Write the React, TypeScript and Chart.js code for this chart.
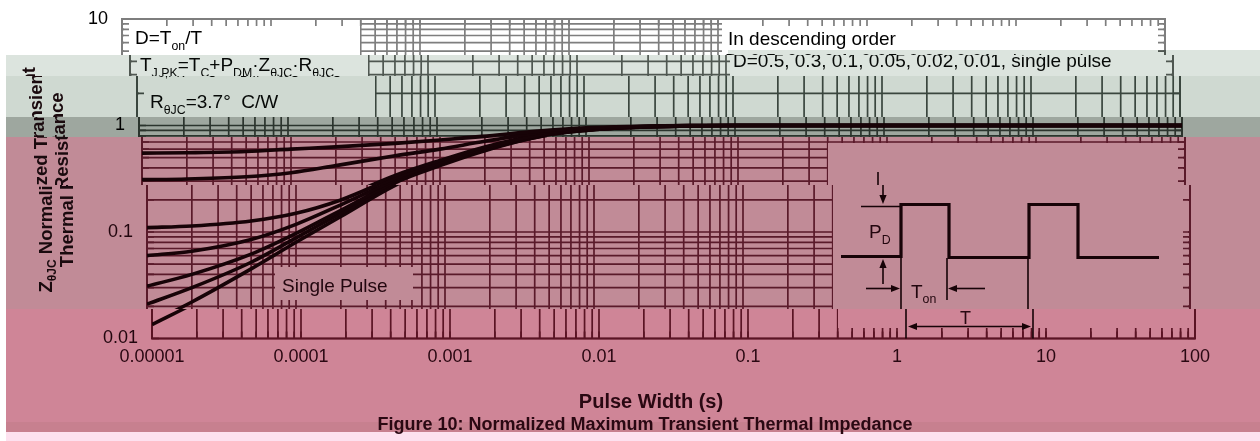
import React, { useEffect, useRef } from "react";
import { Chart, registerables } from "chart.js";
Chart.register(...registerables);

// ---- data ----
const pulseWidths = [1e-5, 2e-5, 5e-5, 1e-4, 2e-4, 5e-4, 1e-3, 2e-3, 5e-3, 1e-2, 2e-2, 5e-2, 1e-1, 1, 10, 100];
const dutyHalf = [0.55, 0.555, 0.57, 0.6, 0.63, 0.68, 0.73, 0.79, 0.89, 0.95, 0.98, 1, 1, 1, 1, 1];
const dutyPoint3 = [0.31, 0.315, 0.33, 0.36, 0.42, 0.52, 0.6, 0.71, 0.86, 0.93, 0.97, 1, 1, 1, 1, 1];
const dutyPoint1 = [0.11, 0.114, 0.127, 0.15, 0.2, 0.34, 0.47, 0.63, 0.83, 0.92, 0.97, 1, 1, 1, 1, 1];
const dutyPoint05 = [0.06, 0.066, 0.085, 0.118, 0.18, 0.32, 0.45, 0.61, 0.82, 0.91, 0.96, 0.99, 1, 1, 1, 1];
const dutyPoint02 = [0.031, 0.04, 0.062, 0.097, 0.16, 0.31, 0.44, 0.6, 0.81, 0.91, 0.96, 0.99, 1, 1, 1, 1];
const dutyPoint01 = [0.021, 0.03, 0.052, 0.088, 0.15, 0.3, 0.43, 0.59, 0.8, 0.9, 0.96, 0.99, 1, 1, 1, 1];
const singlePulse = [0.0135, 0.022, 0.045, 0.08, 0.14, 0.29, 0.42, 0.58, 0.8, 0.9, 0.96, 0.99, 1, 1, 1, 1];
const seriesNames = ["D=0.5", "D=0.3", "D=0.1", "D=0.05", "D=0.02", "D=0.01", "Single Pulse"];
const seriesValues = [dutyHalf, dutyPoint3, dutyPoint1, dutyPoint05, dutyPoint02, dutyPoint01, singlePulse];

const xDecadeLabels = ["0.00001", "0.0001", "0.001", "0.01", "0.1", "1", "10", "100"];
const yDecadeLabels = ["0.01", "0.1", "1", "10"];
const xMinExp = -5, xMaxExp = 2;
const yMinExp = -2, yMaxExp = 1;

// ---- style ----
const FONT = "'Liberation Sans', Arial, Helvetica, sans-serif";
const W = 1260, H = 441;
const CURVE = "#170307";

type Band = { x0: number; y0: number; y1: number; fill: string; grid?: string; ink: string };
const bands: Band[] = [
  { x0: 0, y0: 0, y1: 55, fill: "#ffffff", grid: "#7e7e7e", ink: "#000000" },
  { x0: 758, y0: 50, y1: 55, fill: "#dce4de", grid: "#4f5751", ink: "#060907" },
  { x0: 6, y0: 55, y1: 76, fill: "#dce4de", grid: "#4f5751", ink: "#060907" },
  { x0: 6, y0: 76, y1: 117, fill: "#cfd9d1", grid: "#3a463e", ink: "#060907" },
  { x0: 6, y0: 117, y1: 137, fill: "#9ea79f", grid: "#2b342d", ink: "#050605" },
  { x0: 6, y0: 137, y1: 309, fill: "#c18b97", grid: "#5a1a2a", ink: "#22060e" },
  { x0: 6, y0: 309, y1: 422, fill: "#cf8597", grid: "#5a1424", ink: "#2a0812" },
  { x0: 6, y0: 422, y1: 432, fill: "#c7808f", ink: "#2a0812" },
  { x0: 6, y0: 432, y1: 441, fill: "#fde1ef", ink: "#2a0812" },
];

// horizontal displacement of picture rows, as seen in the reference
const rowShifts = [
  { y0: 0, y1: 55, dx: 30 },
  { y0: 55, y1: 76, dx: 22 },
  { y0: 76, y1: 117, dx: 15 },
  { y0: 117, y1: 137, dx: 13 },
  { y0: 137, y1: 185, dx: 10 },
  { y0: 185, y1: 309, dx: 5 },
];

function bandAt(x: number, y: number): Band {
  let res = bands[0];
  for (const b of bands) if (y >= b.y0 && y < b.y1 && x >= b.x0) res = b;
  return res;
}

function decadeTicks(minExp: number, maxExp: number) {
  const t: number[] = [];
  for (let e = minExp; e < maxExp; e++) for (let m = 1; m <= 9; m++) t.push(parseFloat((m * Math.pow(10, e)).toPrecision(3)));
  t.push(Math.pow(10, maxExp));
  return t;
}

function decadeIndex(v: number, minExp: number): number {
  const e = Math.log10(v);
  const r = Math.round(e);
  return Math.abs(e - r) < 1e-6 ? r - minExp : -1;
}

type Part = [string, boolean?];
function richWidth(ctx: CanvasRenderingContext2D, parts: Part[], size: number, weight: string) {
  let w = 0;
  for (const [t, sub] of parts) {
    ctx.font = `${weight} ${sub ? size * 0.65 : size}px ${FONT}`;
    w += ctx.measureText(t).width;
  }
  return w;
}
function drawRich(ctx: CanvasRenderingContext2D, parts: Part[], x: number, y: number, size: number, weight = "normal", align = "left") {
  const w = richWidth(ctx, parts, size, weight);
  let cx = align === "center" ? x - w / 2 : x;
  ctx.textAlign = "left";
  for (const [t, sub] of parts) {
    ctx.font = `${weight} ${sub ? size * 0.65 : size}px ${FONT}`;
    ctx.fillText(t, cx, sub ? y + size * 0.3 : y);
    cx += ctx.measureText(t).width;
  }
}

function arrowHead(ctx: CanvasRenderingContext2D, x1: number, y1: number, x2: number, y2: number, head = 9) {
  const ang = Math.atan2(y2 - y1, x2 - x1);
  ctx.beginPath();
  ctx.moveTo(x2, y2);
  ctx.lineTo(x2 - Math.cos(ang) * head + Math.sin(ang) * head * 0.4, y2 - Math.sin(ang) * head - Math.cos(ang) * head * 0.4);
  ctx.lineTo(x2 - Math.cos(ang) * head - Math.sin(ang) * head * 0.4, y2 - Math.sin(ang) * head + Math.cos(ang) * head * 0.4);
  ctx.closePath();
  ctx.fill();
}
function arrow(ctx: CanvasRenderingContext2D, x1: number, y1: number, x2: number, y2: number, head = 9) {
  const ang = Math.atan2(y2 - y1, x2 - x1);
  ctx.beginPath();
  ctx.moveTo(x1, y1);
  ctx.lineTo(x2 - Math.cos(ang) * head * 0.8, y2 - Math.sin(ang) * head * 0.8);
  ctx.stroke();
  arrowHead(ctx, x1, y1, x2, y2, head);
}
function doubleArrow(ctx: CanvasRenderingContext2D, x1: number, x2: number, y: number, head = 9) {
  ctx.beginPath();
  ctx.moveTo(x1 + head * 0.8, y);
  ctx.lineTo(x2 - head * 0.8, y);
  ctx.stroke();
  arrowHead(ctx, x2, y, x1, y, head);
  arrowHead(ctx, x1, y, x2, y, head);
}

// panels that hide the grid (annotation boxes)
const panels = [
  { x0: 154, y0: 20, x1: 390, y1: 117 },
  { x0: 752, y0: 20, x1: 1193, y1: 76 },
  { x0: 280, y0: 267, x1: 418, y1: 300 },
  { x0: 838, y0: 143, x1: 1193, y1: 328 },
];

function fillBands(ctx: CanvasRenderingContext2D, r: { x0: number; y0: number; x1: number; y1: number }) {
  for (const b of bands) {
    const x0 = Math.max(r.x0, b.x0), y0 = Math.max(r.y0, b.y0), y1 = Math.min(r.y1, b.y1);
    if (y1 > y0 && r.x1 > x0) {
      ctx.fillStyle = b.fill;
      ctx.fillRect(x0, y0, r.x1 - x0, y1 - y0);
    }
  }
}

function perBand(ctx: CanvasRenderingContext2D, fn: (b: Band) => void) {
  for (const b of bands) {
    if (!b.grid) continue;
    ctx.save();
    ctx.beginPath();
    ctx.rect(b.x0, b.y0, W - b.x0, b.y1 - b.y0);
    ctx.clip();
    fn(b);
    ctx.restore();
  }
}

const decorPlugin = {
  id: "decor",
  beforeDraw(chart: any) {
    const ctx = chart.ctx as CanvasRenderingContext2D;
    ctx.save();
    ctx.fillStyle = "#ffffff";
    ctx.fillRect(0, 0, W, H);
    fillBands(ctx, { x0: 0, y0: 0, x1: W, y1: H });
    ctx.restore();
  },
  beforeDatasetsDraw(chart: any) {
    const ctx = chart.ctx as CanvasRenderingContext2D;
    const a = chart.chartArea;
    const sx = chart.scales.x, sy = chart.scales.y;
    const xs = sx.ticks.map((t: any) => sx.getPixelForValue(t.value));
    const ys = sy.ticks.map((t: any) => sy.getPixelForValue(t.value));
    perBand(ctx, (b) => {
      ctx.strokeStyle = b.grid!;
      ctx.lineWidth = 1.7;
      ctx.beginPath();
      xs.forEach((x: number) => { ctx.moveTo(x, a.top); ctx.lineTo(x, a.bottom); });
      ys.forEach((y: number) => { ctx.moveTo(a.left, y); ctx.lineTo(a.right, y); });
      ctx.stroke();
    });
    ctx.save();
    panels.forEach((p) => fillBands(ctx, p));
    ctx.restore();
    perBand(ctx, (b) => {
      ctx.strokeStyle = b.grid!;
      ctx.lineWidth = 2;
      ctx.strokeRect(a.left, a.top, a.right - a.left, a.bottom - a.top);
      ctx.lineWidth = 1.7;
      ctx.beginPath();
      xs.forEach((x: number) => {
        ctx.moveTo(x, a.top); ctx.lineTo(x, a.top + 7);
        ctx.moveTo(x, a.bottom); ctx.lineTo(x, a.bottom - 7);
      });
      ys.forEach((y: number) => {
        ctx.moveTo(a.left, y); ctx.lineTo(a.left + 7, y);
        ctx.moveTo(a.right, y); ctx.lineTo(a.right - 7, y);
      });
      ctx.stroke();
    });
  },
  afterDraw(chart: any) {
    const ctx = chart.ctx as CanvasRenderingContext2D;
    const sx = chart.scales.x, sy = chart.scales.y;
    ctx.save();
    ctx.textBaseline = "alphabetic";
    const ink = (x: number, y: number) => bandAt(x, y).ink;

    // annotations
    ctx.fillStyle = ink(165, 40);
    drawRich(ctx, [["D=T"], ["on", true], ["/T"]], 165, 44, 19);
    ctx.fillStyle = ink(162, 68);
    drawRich(ctx, [["T"], ["J,PK", true], ["=T"], ["C", true], ["+P"], ["DM", true], ["\u00B7Z"], ["\u03B8JC", true], ["\u00B7R"], ["\u03B8JC", true]], 162, 71, 19);
    ctx.fillStyle = ink(165, 104);
    drawRich(ctx, [["R"], ["\u03B8JC", true], ["=3.7\u00B0  C/W"]], 165, 108, 19);
    ctx.fillStyle = ink(758, 40);
    drawRich(ctx, [["In descending order"]], 758, 45, 19);
    ctx.fillStyle = ink(755, 62);
    drawRich(ctx, [["D=0.5, 0.3, 0.1, 0.05, 0.02, 0.01, single pulse"]], 755, 67, 19);
    ctx.fillStyle = ink(287, 288);
    drawRich(ctx, [[seriesNames[6]]], 287, 292, 19);

    // y axis title
    const plotMidY = (chart.chartArea.top + chart.chartArea.bottom) / 2;
    ctx.fillStyle = "#1a0a0e";
    ctx.save();
    ctx.translate(0, plotMidY + 1);
    ctx.rotate(-Math.PI / 2);
    ctx.textBaseline = "middle";
    drawRich(ctx, [["Z"], ["\u03B8JC", true], [" Normalized Transient"]], 0, 52, 18.5, "bold", "center");
    drawRich(ctx, [["Thermal Resistance"]], 0, 73, 18.5, "bold", "center");
    ctx.restore();

    // inset pulse diagram, anchored on the scales
    const ox = sx.getPixelForValue(1) + 5;
    const ay = sy.getPixelForValue(0.1);
    const bottom = chart.chartArea.bottom;
    ctx.strokeStyle = CURVE;
    ctx.fillStyle = CURVE;
    ctx.lineWidth = 3.2;
    ctx.lineJoin = "miter";
    ctx.beginPath();
    ctx.moveTo(ox - 56, ay + 24.5);
    ctx.lineTo(ox + 4, ay + 24.5);
    ctx.lineTo(ox + 4, ay - 27.5);
    ctx.lineTo(ox + 52, ay - 27.5);
    ctx.lineTo(ox + 52, ay + 25.5);
    ctx.lineTo(ox + 132, ay + 25.5);
    ctx.lineTo(ox + 132, ay - 27.5);
    ctx.lineTo(ox + 181, ay - 27.5);
    ctx.lineTo(ox + 181, ay + 25.5);
    ctx.lineTo(ox + 262, ay + 25.5);
    ctx.stroke();

    ctx.lineWidth = 1.6;
    ctx.beginPath();
    ctx.moveTo(ox - 36, ay - 25.5); ctx.lineTo(ox + 4, ay - 25.5);
    ctx.moveTo(ox + 4, ay + 26); ctx.lineTo(ox + 4, bottom);
    ctx.moveTo(ox + 50, ay + 26); ctx.lineTo(ox + 50, ay + 68);
    ctx.moveTo(ox + 131, ay + 26); ctx.lineTo(ox + 131, bottom);
    ctx.stroke();
    arrow(ctx, ox - 14, ay - 60, ox - 14, ay - 28);
    arrow(ctx, ox - 14, ay + 52, ox - 14, ay + 27);
    arrow(ctx, ox - 31, ay + 56.5, ox + 3, ay + 56.5);
    arrow(ctx, ox + 88, ay + 56.5, ox + 51, ay + 56.5);
    doubleArrow(ctx, ox + 6, ox + 129, ay + 94.5);

    ctx.fillStyle = ink(ox, ay);
    drawRich(ctx, [["P"], ["D", true]], ox - 28, ay + 6, 19);
    drawRich(ctx, [["T"], ["on", true]], ox + 14, ay + 65.5, 19);
    ctx.fillStyle = ink(ox + 58, ay + 88);
    drawRich(ctx, [["T"]], ox + 58, ay + 91.5, 18);

    // bottom titles
    ctx.fillStyle = ink(651, 405);
    drawRich(ctx, [["Pulse Width (s)"]], 651, 408, 20, "bold", "center");
    ctx.fillStyle = ink(645, 426);
    drawRich(ctx, [["Figure 10: Normalized Maximum Transient Thermal Impedance"]], 645, 430, 18, "bold", "center");
    ctx.restore();

    // row displacement as in the reference picture
    for (const r of rowShifts) {
      const img = ctx.getImageData(r.dx, r.y0, W - r.dx, r.y1 - r.y0);
      ctx.putImageData(img, 0, r.y0);
      fillBands(ctx, { x0: W - r.dx, y0: r.y0, x1: W, y1: r.y1 });
    }
    ctx.fillStyle = "#ffffff";
    ctx.fillRect(0, 0, 6, H);
  },
};

export default function App() {
  const ref = useRef<HTMLCanvasElement | null>(null);
  useEffect(() => {
    document.body.style.margin = "0";
    const canvas = ref.current!;
    const datasets = seriesValues.map((vals, i) => ({
      label: seriesNames[i],
      data: pulseWidths.map((x, j) => ({ x, y: vals[j] })),
      borderColor: CURVE,
      backgroundColor: CURVE,
      borderWidth: 3.6,
      pointRadius: 0,
      fill: false,
      cubicInterpolationMode: "monotone" as const,
    }));
    const chart = new Chart(canvas, {
      type: "line",
      data: { datasets },
      options: {
        responsive: false,
        animation: false,
        events: [],
        layout: { padding: { left: 0, right: 65, top: 19, bottom: 0 } },
        plugins: { legend: { display: false }, tooltip: { enabled: false }, title: { display: false } },
        scales: {
          x: {
            type: "logarithmic",
            min: Math.pow(10, xMinExp),
            max: Math.pow(10, xMaxExp),
            grid: { display: false, drawTicks: false },
            border: { display: false },
            afterBuildTicks: (s: any) => { s.ticks = decadeTicks(xMinExp, xMaxExp).map((v) => ({ value: v })); },
            afterFit: (s: any) => { s.height = 102.5; s.paddingLeft = 0; s.paddingRight = 0; },
            ticks: {
              autoSkip: false,
              maxRotation: 0,
              padding: 8,
              color: "#2a0812",
              font: { family: FONT, size: 18 },
              callback: (v: any) => { const k = decadeIndex(Number(v), xMinExp); return k >= 0 ? xDecadeLabels[k] : ""; },
            },
          },
          y: {
            type: "logarithmic",
            min: Math.pow(10, yMinExp),
            max: Math.pow(10, yMaxExp),
            grid: { display: false, drawTicks: false },
            border: { display: false },
            afterBuildTicks: (s: any) => { s.ticks = decadeTicks(yMinExp, yMaxExp).map((v) => ({ value: v })); },
            afterFit: (s: any) => { s.width = 152; s.paddingTop = 0; s.paddingBottom = 0; },
            ticks: {
              autoSkip: false,
              padding: 14,
              color: (c: any) => (c.tick && c.tick.value >= 1 ? "#000000" : "#22060e"),
              font: { family: FONT, size: 18 },
              callback: (v: any) => { const k = decadeIndex(Number(v), yMinExp); return k >= 0 ? yDecadeLabels[k] : ""; },
            },
          },
        },
      },
      plugins: [decorPlugin],
    } as any);
    return () => chart.destroy();
  }, []);
  return (
    <div style={{ width: W, height: H }}>
      <canvas ref={ref} width={W} height={H} style={{ display: "block" }} />
    </div>
  );
}
